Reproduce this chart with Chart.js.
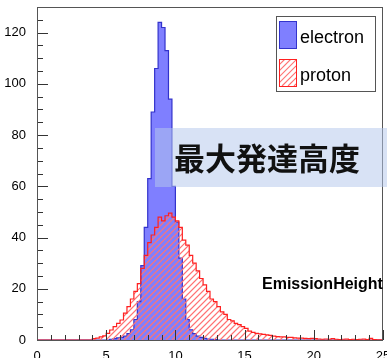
<!DOCTYPE html>
<html>
<head>
<meta charset="utf-8">
<script src="https://cdn.jsdelivr.net/npm/chart.js@4.4.1/dist/chart.umd.min.js"></script>
<style>
  html, body { margin: 0; padding: 0; background: #fff; }
</style>
</head>
<body>
<canvas id="c" width="387" height="358"></canvas>
<script>
// histogram binning: 100 bins of 0.25 from 0 to 25
const binStart = 0;
const binWidth = 0.25;

// electron, per bin
const electron = [
  0, 0, 0, 0, 0, 0, 0, 0, 0, 0,
  0, 0, 0, 0, 0, 0, 0, 0, 0, 0,
  0, 0.3, 0.5, 0.8, 1, 1.5, 2.5, 4, 8, 15,
  29, 44, 63, 89, 106, 124, 122, 113, 94, 60,
  46, 32, 16, 8, 4, 2.5, 1.5, 1, 0.6, 0.4,
  0.3, 0.2, 0, 0, 0, 0, 0, 0, 0, 0,
  0, 0, 0, 0, 0, 0, 0, 0, 0, 0,
  0, 0, 0, 0, 0, 0, 0, 0, 0, 0,
  0, 0, 0, 0, 0, 0, 0, 0, 0, 0,
  0, 0, 0, 0, 0, 0, 0, 0, 0, 0
];

// proton, per bin
const proton = [
  0, 0, 0, 0, 0, 0, 0, 0, 0, 0,
  0, 0, 0, 0, 0, 0, 0.5, 0.7, 1.2, 1.6,
  2.6, 3.9, 5.2, 6.5, 7.8, 10.5, 13, 16, 19, 22,
  28, 33, 38, 41, 44, 48, 46.5, 48.5, 49.5, 48,
  46.5, 44, 39, 37, 33, 30, 27, 24, 21.5, 19,
  16, 15, 13, 11, 10, 8, 7.5, 6.5, 6, 5.2,
  4.5, 3.5, 3, 2.6, 2.4, 2.2, 2, 1.8, 1.5, 1.3,
  1.2, 1.2, 1, 1, 0.8, 0.7, 0.7, 0.6, 0.5, 0.6,
  0.5, 0.4, 0.3, 0.4, 0.3, 0.5, 0.3, 0.2, 0.3, 0.4,
  0.2, 0.3, 0.2, 0.3, 0.4, 0.2, 0.6, 0.2, 0.1, 0.1
];

const seriesNames = ["electron", "proton"];
const xMin = 0, xMax = 25, xMajor = 5, xMinor = 1;
const yMin = 0, yMax = 130, yMajor = 20, yMinor = 5;
const boxText = "最大発達高度";
const histTitle = "EmissionHeight";
const HATCH_GAP = 6;

function toSteps(vals){
  const pts = vals.map((v, i) => ({ x: binStart + i * binWidth, y: v }));
  pts.push({ x: binStart + vals.length * binWidth, y: vals[vals.length - 1] });
  return pts;
}

// "///" lines inside whatever clip is active
function hatchLines(ctx, x0, y0, x1, y1){
  ctx.strokeStyle = "rgb(255,115,115)";
  ctx.lineWidth = 1.2;
  ctx.beginPath();
  const h = y1 - y0;
  for (let x = x0 - h; x < x1 + h; x += HATCH_GAP) {
    ctx.moveTo(x, y1); ctx.lineTo(x + h, y0);
  }
  ctx.stroke();
}

const decor = {
  id: "decor",
  beforeDatasetDraw(chart, args){
    if (args.index !== 1) return;
    const { ctx, chartArea: a } = chart;
    const pts = args.meta.data;
    const base = chart.scales.y.getPixelForValue(0);
    ctx.save();
    ctx.beginPath();
    ctx.moveTo(pts[0].x, base);
    ctx.lineTo(pts[0].x, pts[0].y);
    for (let i = 1; i < pts.length; i++) {
      ctx.lineTo(pts[i].x, pts[i - 1].y);
      ctx.lineTo(pts[i].x, pts[i].y);
    }
    ctx.lineTo(pts[pts.length - 1].x, base);
    ctx.closePath();
    ctx.clip();
    hatchLines(ctx, a.left, a.top, a.right, a.bottom);
    ctx.restore();
  },
  afterDatasetsDraw(chart){
    const { ctx, chartArea: a } = chart;
    const xs = chart.scales.x, ys = chart.scales.y;
    ctx.save();
    ctx.strokeStyle = "#333";
    ctx.lineWidth = 1;
    ctx.beginPath();
    for (let v = yMin; v < yMax; v += yMinor) {
      const py = Math.round(ys.getPixelForValue(v)) + 0.5;
      const len = v % yMajor === 0 ? 11 : 6;
      ctx.moveTo(a.left, py); ctx.lineTo(a.left + len, py);
    }
    for (let v = xMin; v <= xMax; v += xMinor) {
      const px = Math.round(xs.getPixelForValue(v)) + 0.5;
      const len = v % xMajor === 0 ? 10 : 5;
      ctx.moveTo(px, a.bottom); ctx.lineTo(px, a.bottom - len);
    }
    ctx.stroke();
    ctx.strokeStyle = "#555";
    ctx.strokeRect(a.left + 0.5, a.top + 0.5, a.right - a.left - 1, a.bottom - a.top);
    ctx.restore();
  },
  afterDraw(chart){
    const { ctx } = chart;
    ctx.save();
    // legend box
    ctx.fillStyle = "#fff";
    ctx.fillRect(276, 16, 99, 75);
    ctx.strokeStyle = "#555";
    ctx.lineWidth = 1;
    ctx.strokeRect(276.5, 16.5, 99, 75);
    ctx.fillStyle = "rgb(127,127,255)";
    ctx.fillRect(279, 21, 17, 27);
    ctx.strokeStyle = "#3333cc";
    ctx.strokeRect(279.5, 21.5, 17, 27);
    ctx.save();
    ctx.beginPath();
    ctx.rect(279, 59, 17, 27);
    ctx.clip();
    hatchLines(ctx, 279, 59, 296, 86);
    ctx.restore();
    ctx.strokeStyle = "#ff2020";
    ctx.lineWidth = 1;
    ctx.strokeRect(279.5, 59.5, 17, 27);
    ctx.fillStyle = "#000";
    ctx.font = "18px 'Liberation Sans', Arial, sans-serif";
    ctx.textBaseline = "alphabetic";
    ctx.fillText(seriesNames[0], 300, 43);
    ctx.fillText(seriesNames[1], 300, 81);
    // hist title
    ctx.font = "bold 16px 'Liberation Sans', Arial, sans-serif";
    ctx.fillText(histTitle, 262, 289);
    // translucent text box
    ctx.fillStyle = "rgba(180,200,235,0.52)";
    ctx.fillRect(155, 128, 232, 59);
    ctx.fillStyle = "#111";
    ctx.font = "bold 31px 'Noto Sans CJK JP', sans-serif";
    ctx.textBaseline = "middle";
    ctx.fillText(boxText, 174, 158);
    ctx.restore();
  }
};

new Chart(document.getElementById("c"), {
  type: "line",
  data: {
    datasets: [
      {
        label: seriesNames[0], data: toSteps(electron), order: 2,
        stepped: true, fill: "origin", pointRadius: 0,
        borderColor: "#3333cc", borderWidth: 1.2, backgroundColor: "rgb(127,127,255)"
      },
      {
        label: seriesNames[1], data: toSteps(proton), order: 1,
        stepped: true, fill: false, pointRadius: 0,
        borderColor: "#ff2020", borderWidth: 1.2, backgroundColor: "transparent"
      }
    ]
  },
  options: {
    responsive: false,
    animation: false,
    devicePixelRatio: 1,
    layout: { padding: { top: 7, right: 4, left: 0, bottom: 0 } },
    plugins: { legend: { display: false }, tooltip: { enabled: false } },
    scales: {
      x: {
        type: "linear", min: xMin, max: xMax,
        grid: { display: false }, border: { display: false },
        ticks: {
          stepSize: xMajor, maxRotation: 0, autoSkip: false, padding: 1,
          color: "#000", font: { family: "'Liberation Sans', Arial", size: 13 }
        },
        afterFit: (s) => { s.height = 18; s.paddingLeft = 0; s.paddingRight = 0; }
      },
      y: {
        type: "linear", min: yMin, max: yMax,
        grid: { display: false }, border: { display: false },
        ticks: {
          stepSize: yMajor, includeBounds: false, padding: 3,
          color: "#000", font: { family: "'Liberation Sans', Arial", size: 13 }
        },
        afterFit: (s) => { s.width = 37; s.paddingTop = 0; s.paddingBottom = 0; }
      }
    }
  },
  plugins: [decor]
});
</script>
</body>
</html>
